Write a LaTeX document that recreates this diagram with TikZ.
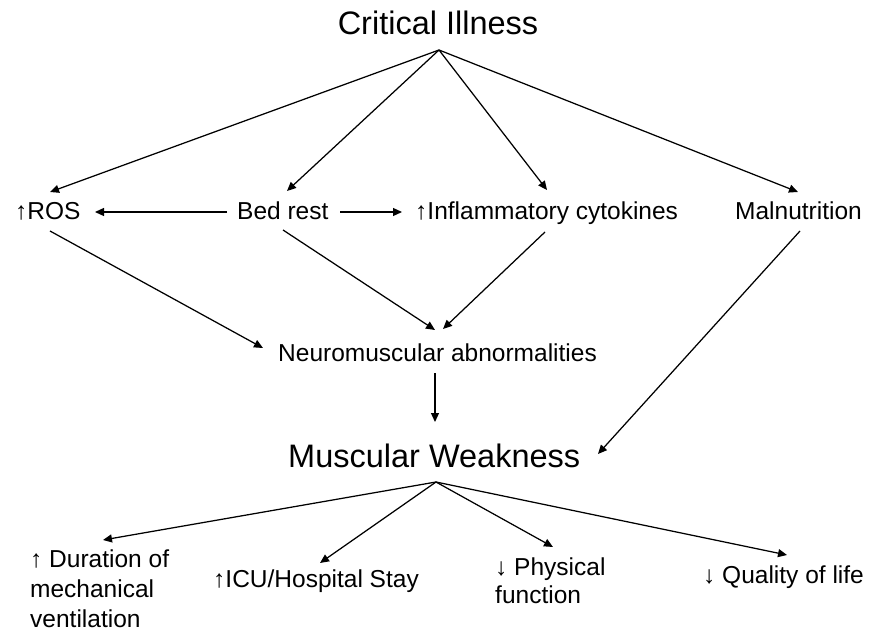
\documentclass[tikz,border=0pt]{standalone}
\usepackage{fontspec}
\setmainfont{Liberation Sans}
\usetikzlibrary{arrows.meta}
\begin{document}
\begin{tikzpicture}[x=1pt,y=-1pt,
  txt/.style={inner sep=0pt,anchor=base west,font=\fontsize{24.5}{29}\selectfont,align=left},
  big/.style={inner sep=0pt,font=\fontsize{32.5}{38}\selectfont},
  arr/.style={line width=1.25pt,-{Triangle[length=9pt,width=8pt]}}]
\useasboundingbox (0,0) rectangle (871,631);
\node[big,anchor=base] (ci) at (438,35) {Critical Illness};
\node[txt] (ros) at (15,220) {↑ROS};
\node[txt] (bed) at (237,220) {Bed rest};
\node[txt] (infl) at (415,220) {↑Inflammatory cytokines};
\node[txt] (mal) at (735,220) {Malnutrition};
\node[txt] (neuro) at (278,361) {Neuromuscular abnormalities};
\node[big,anchor=base west] (mw) at (288,467) {Muscular Weakness};
\node[txt,font=\fontsize{24.5}{30}\selectfont] (dur) at (30,627) {↑ Duration of\\mechanical\\ventilation};
\node[txt] (icu) at (213,587) {↑ICU/Hospital Stay};
\node[txt,font=\fontsize{24.5}{28}\selectfont] (phys) at (495,603) {↓ Physical\\function};
\node[txt] (qol) at (703,583) {↓ Quality of life};
% from critical illness
\draw[arr] ([xshift=1pt,yshift=-15pt]ci.base) -- ([xshift=35pt,yshift=28pt]ros.base west);
\draw[arr] ([xshift=1pt,yshift=-15pt]ci.base) -- ([xshift=50pt,yshift=29pt]bed.base west);
\draw[arr] ([xshift=1pt,yshift=-15pt]ci.base) -- ([xshift=132pt,yshift=30pt]infl.base west);
\draw[arr] ([xshift=1pt,yshift=-15pt]ci.base) -- ([xshift=63pt,yshift=28pt]mal.base west);
% bed rest sideways
\draw[arr] ([xshift=-10pt,yshift=8pt]bed.base west) -- ([xshift=80pt,yshift=8pt]ros.base west);
\draw[arr] ([xshift=103pt,yshift=8pt]bed.base west) -- ([xshift=-13pt,yshift=8pt]infl.base west);
% to neuromuscular
\draw[arr] ([xshift=35pt,yshift=-11pt]ros.base west) -- ([xshift=-15pt,yshift=13pt]neuro.base west);
\draw[arr] ([xshift=46pt,yshift=-10pt]bed.base west) -- ([xshift=157pt,yshift=31pt]neuro.base west);
\draw[arr] ([xshift=130pt,yshift=-12pt]infl.base west) -- ([xshift=165pt,yshift=32pt]neuro.base west);
% to muscular weakness
\draw[arr] ([xshift=65pt,yshift=-11pt]mal.base west) -- ([xshift=310pt,yshift=13pt]mw.base west);
\draw[arr] ([xshift=157pt,yshift=-12pt]neuro.base west) -- ([xshift=147pt,yshift=45pt]mw.base west);
% outcomes
\draw[arr] ([xshift=148pt,yshift=-15pt]mw.base west) -- ([xshift=73pt,yshift=87pt]dur.base west);
\draw[arr] ([xshift=148pt,yshift=-15pt]mw.base west) -- ([xshift=107pt,yshift=24pt]icu.base west);
\draw[arr] ([xshift=148pt,yshift=-15pt]mw.base west) -- ([xshift=58pt,yshift=56pt]phys.base west);
\draw[arr] ([xshift=148pt,yshift=-15pt]mw.base west) -- ([xshift=84pt,yshift=28pt]qol.base west);
\end{tikzpicture}
\end{document}
